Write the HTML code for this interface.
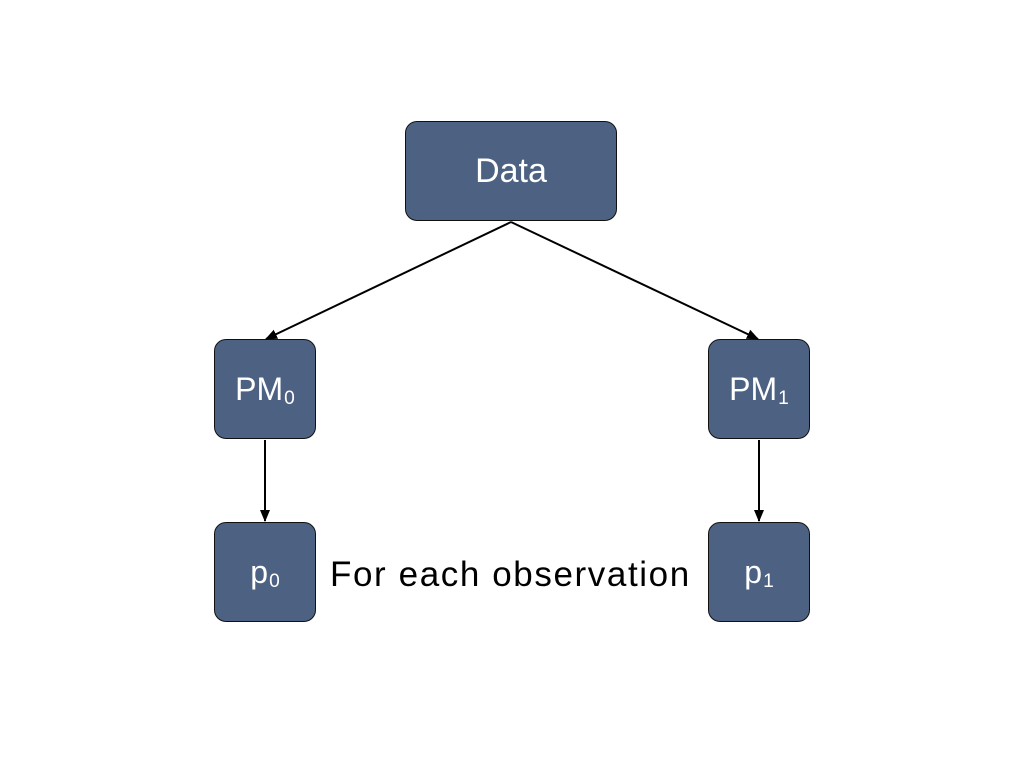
<!DOCTYPE html>
<html><head><style>
body{margin:0;width:1024px;height:768px;background:#fff;position:relative;font-family:"Liberation Sans",sans-serif;overflow:hidden}
.b{position:absolute;background:#4d6283;border:1.5px solid #111;border-radius:12px;color:#fff;display:flex;align-items:center;justify-content:center;box-sizing:border-box}
.s{font-size:60%;position:relative;top:4px;margin-left:1px}
</style></head><body>
<div class="b" style="left:405px;top:121px;width:212px;height:100px;font-size:34px"><span>Data</span></div>
<div class="b" style="left:214px;top:339px;width:102px;height:100px;font-size:32px"><span>PM<span class="s">0</span></span></div>
<div class="b" style="left:708px;top:339px;width:102px;height:100px;font-size:32px"><span>PM<span class="s">1</span></span></div>
<div class="b" style="left:214px;top:522px;width:102px;height:100px;font-size:32px"><span>p<span class="s">0</span></span></div>
<div class="b" style="left:708px;top:522px;width:102px;height:100px;font-size:32px"><span>p<span class="s">1</span></span></div>
<div style="position:absolute;left:330px;top:555px;font-size:35px;color:#000;letter-spacing:1.6px;white-space:nowrap">For each observation</div>
<svg width="1024" height="768" style="position:absolute;left:0;top:0">
<defs><marker id="a" markerWidth="12" markerHeight="12" refX="11" refY="6" orient="auto" markerUnits="userSpaceOnUse"><path d="M0,1L12,6L0,11z" fill="#000"/></marker></defs>
<g stroke="#000" stroke-width="2" marker-end="url(#a)">
<line x1="511" y1="222" x2="266" y2="339"/>
<line x1="511" y1="222" x2="758" y2="339"/>
<line x1="265" y1="440" x2="265" y2="521"/>
<line x1="759" y1="440" x2="759" y2="521"/>
</g></svg>
</body></html>
